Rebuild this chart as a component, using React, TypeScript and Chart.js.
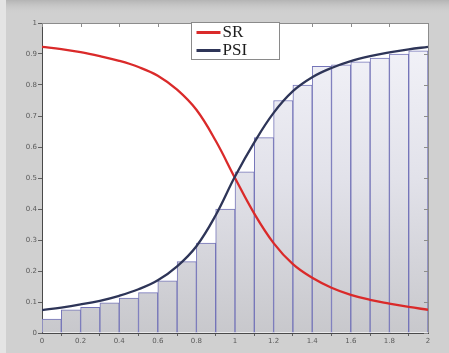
import React, { useEffect, useRef } from "react";
import { Chart, registerables } from "chart.js";

Chart.register(...registerables);

// ---- data ----
const xPoints = [0, 0.1, 0.2, 0.3, 0.4, 0.5, 0.6, 0.7, 0.8, 0.9, 1.0, 1.1, 1.2, 1.3, 1.4, 1.5, 1.6, 1.7, 1.8, 1.9, 2.0];
const srValues = [0.923, 0.916, 0.906, 0.893, 0.878, 0.858, 0.83, 0.785, 0.72, 0.62, 0.5, 0.385, 0.29, 0.222, 0.178, 0.146, 0.123, 0.107, 0.095, 0.084, 0.075];
const psiValues = [0.074, 0.082, 0.092, 0.104, 0.12, 0.141, 0.17, 0.215, 0.28, 0.38, 0.505, 0.615, 0.71, 0.78, 0.825, 0.855, 0.877, 0.893, 0.905, 0.915, 0.923];
const binCenters = [0.05, 0.15, 0.25, 0.35, 0.45, 0.55, 0.65, 0.75, 0.85, 0.95, 1.05, 1.15, 1.25, 1.35, 1.45, 1.55, 1.65, 1.75, 1.85, 1.95];
const binHeights = [0.045, 0.075, 0.083, 0.097, 0.113, 0.13, 0.168, 0.23, 0.29, 0.4, 0.52, 0.63, 0.75, 0.8, 0.86, 0.865, 0.875, 0.887, 0.9, 0.91];
const seriesNames = ["SR", "PSI"];
const xRange = [0, 2];
const yRange = [0, 1];
const xStep = 0.2;
const yStep = 0.1;

const fmt = (v: number) => String(Math.round(v * 10) / 10);

const backgroundPlugin = {
  id: "bgPlugin",
  beforeDraw(chart: any) {
    const { ctx, width, height, chartArea } = chart;
    ctx.save();
    ctx.fillStyle = "#d0d0d0";
    ctx.fillRect(0, 0, width, height);
    const g = ctx.createLinearGradient(0, 0, 0, 14);
    g.addColorStop(0, "#b4b4b4");
    g.addColorStop(1, "rgba(208,208,208,0)");
    ctx.fillStyle = g;
    ctx.fillRect(0, 0, width, 14);
    ctx.fillStyle = "#e4e4e4";
    ctx.fillRect(0, 0, 6, height);
    if (chartArea) {
      ctx.fillStyle = "#ffffff";
      ctx.fillRect(chartArea.left, chartArea.top, chartArea.right - chartArea.left, chartArea.bottom - chartArea.top);
    }
    ctx.restore();
  },
};

const frameLegendPlugin = {
  id: "frameLegend",
  afterDraw(chart: any) {
    const { ctx, chartArea } = chart;
    if (!chartArea) return;
    ctx.save();
    ctx.strokeStyle = "#8c8c8c";
    ctx.lineWidth = 1;
    ctx.beginPath();
    ctx.moveTo(chartArea.left, chartArea.top + 0.5);
    ctx.lineTo(chartArea.right + 0.5, chartArea.top + 0.5);
    ctx.lineTo(chartArea.right + 0.5, chartArea.bottom);
    ctx.stroke();

    const xs = chart.scales.x;
    const ys = chart.scales.y;
    xs.ticks.forEach((t: any) => {
      const px = Math.round(xs.getPixelForValue(t.value)) + 0.5;
      ctx.beginPath();
      ctx.moveTo(px, chartArea.top);
      ctx.lineTo(px, chartArea.top + 4);
      ctx.stroke();
    });
    ys.ticks.forEach((t: any) => {
      const py = Math.round(ys.getPixelForValue(t.value)) + 0.5;
      ctx.beginPath();
      ctx.moveTo(chartArea.right, py);
      ctx.lineTo(chartArea.right - 4, py);
      ctx.stroke();
    });

    const w = 88;
    const h = 37;
    const x = Math.round((chartArea.left + chartArea.right) / 2 - w / 2) + 0.5;
    const y = chartArea.top - 1 + 0.5;
    ctx.fillStyle = "#ffffff";
    ctx.fillRect(x, y, w, h);
    ctx.strokeStyle = "#8a8a8a";
    ctx.lineWidth = 1;
    ctx.strokeRect(x, y, w, h);
    const lines = chart.data.datasets.filter((d: any) => d.type === "line");
    lines.forEach((d: any, i: number) => {
      const ly = y + 10 + i * 18;
      ctx.strokeStyle = d.borderColor;
      ctx.lineWidth = 3;
      ctx.beginPath();
      ctx.moveTo(x + 5, ly);
      ctx.lineTo(x + 29, ly);
      ctx.stroke();
      ctx.fillStyle = "#1c1c1c";
      ctx.font = "17px 'Liberation Serif', 'Times New Roman', serif";
      ctx.textBaseline = "middle";
      ctx.textAlign = "left";
      ctx.fillText(d.label, x + 31, ly + 0.5);
    });
    ctx.restore();
  },
};

export default function App() {
  const canvasRef = useRef<HTMLCanvasElement | null>(null);

  useEffect(() => {
    const canvas = canvasRef.current;
    if (!canvas) return;

    const barFill = (c: any) => {
      const chart = c.chart;
      const ca = chart.chartArea;
      if (!ca) return "#dcdce2";
      const g = chart.ctx.createLinearGradient(0, ca.bottom, 0, ca.top);
      g.addColorStop(0, "#c8c8cc");
      g.addColorStop(0.5, "#e2e2ea");
      g.addColorStop(1, "#f4f4fa");
      return g;
    };

    const chart = new Chart(canvas, {
      type: "bar",
      data: {
        datasets: [
          {
            type: "line",
            label: seriesNames[0],
            data: xPoints.map((x, i) => ({ x, y: srValues[i] })),
            borderColor: "#da2a2a",
            borderWidth: 2.3,
            pointRadius: 0,
            tension: 0.4,
            order: 1,
          } as any,
          {
            type: "line",
            label: seriesNames[1],
            data: xPoints.map((x, i) => ({ x, y: psiValues[i] })),
            borderColor: "#2e3558",
            borderWidth: 2.3,
            pointRadius: 0,
            tension: 0.4,
            order: 0,
          } as any,
          {
            type: "bar",
            label: "bins",
            data: binCenters.map((x, i) => ({ x, y: binHeights[i] })),
            backgroundColor: barFill,
            borderColor: "#7474b8",
            borderWidth: { left: 1, right: 1, top: 1, bottom: 0 },
            borderSkipped: false,
            barPercentage: 1,
            categoryPercentage: 1,
            order: 2,
          } as any,
        ],
      },
      options: {
        responsive: false,
        animation: false,
        events: [],
        layout: { padding: { top: 23, right: 21, left: 0, bottom: 0 } },
        plugins: {
          legend: { display: false },
          tooltip: { enabled: false },
        },
        scales: {
          x: {
            type: "linear",
            min: xRange[0],
            max: xRange[1],
            offset: false,
            afterFit: (s: any) => {
              s.height = 20;
            },
            ticks: {
              stepSize: xStep,
              callback: (v: any) => fmt(Number(v)),
              font: { size: 7, family: "'DejaVu Sans', sans-serif" },
              color: "#5a5a5a",
              padding: 1,
              maxRotation: 0,
              autoSkip: false,
            },
            grid: { drawOnChartArea: false, tickLength: 3, color: "#606060" },
            border: { color: "#4a4a4a", width: 1 },
          },
          y: {
            type: "linear",
            min: yRange[0],
            max: yRange[1],
            afterFit: (s: any) => {
              s.width = 42;
            },
            ticks: {
              stepSize: yStep,
              callback: (v: any) => fmt(Number(v)),
              font: { size: 7, family: "'DejaVu Sans', sans-serif" },
              color: "#5a5a5a",
              padding: 1,
              autoSkip: false,
            },
            grid: { drawOnChartArea: false, tickLength: 4, color: "#606060" },
            border: { color: "#4a4a4a", width: 1 },
          },
        },
      } as any,
      plugins: [backgroundPlugin, frameLegendPlugin],
    });

    return () => {
      chart.destroy();
    };
  }, []);

  return (
    <div style={{ position: "absolute", left: 0, top: 0, width: 449, height: 353 }}>
      <canvas ref={canvasRef} width={449} height={353} style={{ display: "block", width: 449, height: 353 }} />
    </div>
  );
}
